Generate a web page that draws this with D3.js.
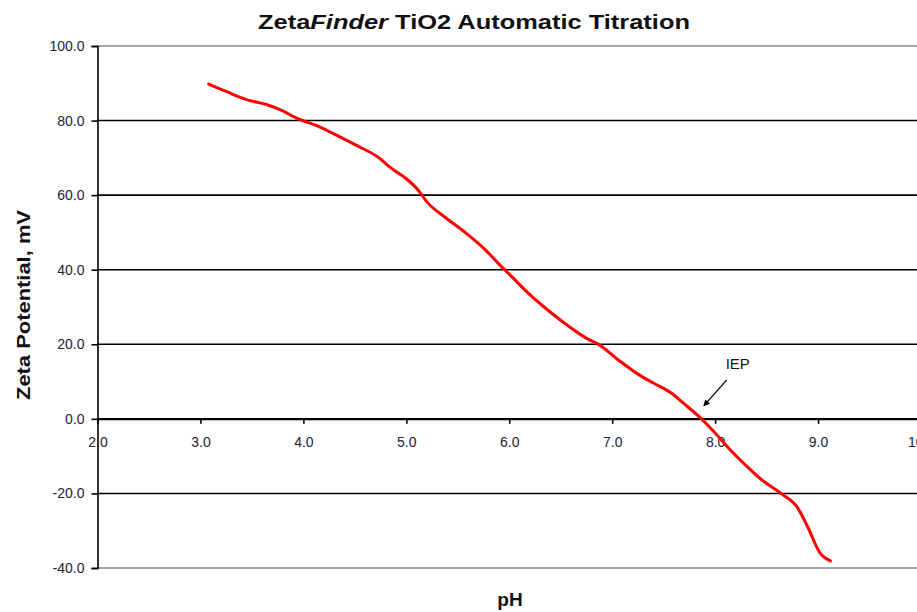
<!DOCTYPE html>
<html><head><meta charset="utf-8">
<script src="https://cdn.jsdelivr.net/npm/d3@7"></script>
<style>body{margin:0;background:#fff;}svg{display:block;font-family:"Liberation Sans",Arial,sans-serif;}</style>
</head><body><svg id="c" width="917" height="612"></svg>
<script>
const pH   = [3.08, 3.25, 3.44, 3.64, 3.80, 3.93, 4.15, 4.35, 4.54, 4.72, 4.86, 5.00, 5.12, 5.20, 5.38, 5.58, 5.78, 5.90, 6.00, 6.20, 6.40, 6.57, 6.77, 6.86, 7.05, 7.25, 7.40, 7.57, 7.70, 7.86, 8.00, 8.15, 8.30, 8.45, 8.65, 8.80, 8.90, 9.02, 9.05, 9.12];
const zeta = [89.8, 87.8, 85.7, 84.3, 82.6, 80.7, 78.4, 75.7, 73.0, 70.3, 67.1, 64.4, 61.2, 58.2, 54.0, 49.8, 45.0, 41.5, 38.8, 33.3, 28.6, 25.0, 21.3, 20.1, 16.0, 12.0, 9.6, 7.0, 4.0, 0.2, -3.8, -8.4, -12.5, -16.3, -20.2, -23.8, -29.0, -36.0, -36.9, -38.1];
const xTicks = [2, 3, 4, 5, 6, 7, 8, 9, 10];
const yTicks = [-40, -20, 0, 20, 40, 60, 80, 100];
const titleParts = [["Zeta", "normal"], ["Finder", "italic"], [" TiO2 Automatic Titration", "normal"]];
const yTitle = "Zeta Potential, mV";
const xTitle = "pH";
const annotation = {text: "IEP", x: 7.88, y: 0};

const svg = d3.select("#c");
const x = d3.scaleLinear().domain([2, 10]).range([97.5, 921]);
const y = d3.scaleLinear().domain([-40, 100]).range([568, 46]);
const fmt = d => d.toFixed(1);

// gridlines
svg.append("g").selectAll("line").data(yTicks).join("line")
  .attr("x1", x(2)).attr("x2", 917)
  .attr("y1", d => y(d)).attr("y2", d => y(d))
  .attr("stroke", d => (d === 100 || d === -40) ? "#8a8a8a" : "#000")
  .attr("stroke-width", 1.6);

// y axis
const ya = svg.append("g").attr("transform", `translate(${x(2)},0)`)
  .call(d3.axisLeft(y).tickValues(yTicks).tickFormat(fmt).tickSize(6).tickPadding(7));
ya.select(".domain").attr("stroke", "#000").attr("stroke-width", 1.6);
ya.selectAll(".tick line").attr("stroke", "#000").attr("stroke-width", 1.6);
ya.selectAll("text").attr("font-size", 14).attr("fill", "#223").attr("font-family", "Liberation Sans, Arial, sans-serif");

// x axis at y=0
const xa = svg.append("g").attr("transform", `translate(0,${y(0)})`)
  .call(d3.axisBottom(x).tickValues(xTicks).tickFormat(fmt).tickSize(5).tickPadding(13));
xa.select(".domain").attr("stroke", "#000").attr("stroke-width", 1.6);
xa.selectAll(".tick line").attr("stroke", "#000").attr("stroke-width", 1.6);
xa.selectAll("text").attr("font-size", 14).attr("fill", "#223").attr("font-family", "Liberation Sans, Arial, sans-serif");

// data line
const data = pH.map((v, i) => [v, zeta[i]]);
svg.append("path").datum(data)
  .attr("fill", "none").attr("stroke", "#ff0000").attr("stroke-width", 3)
  .attr("stroke-linejoin", "round").attr("stroke-linecap", "round")
  .attr("d", d3.line().x(d => x(d[0])).y(d => y(d[1])).curve(d3.curveMonotoneX));

// annotation
svg.append("defs").append("marker").attr("id", "ah").attr("viewBox", "0 0 10 10")
  .attr("refX", 9).attr("refY", 5).attr("markerWidth", 5).attr("markerHeight", 5).attr("orient", "auto")
  .append("path").attr("d", "M0,0L10,5L0,10z").attr("fill", "#000");
svg.append("line")
  .attr("x1", x(annotation.x) + 24).attr("y1", y(annotation.y) - 39)
  .attr("x2", x(annotation.x) + 1).attr("y2", y(annotation.y) - 13)
  .attr("stroke", "#000").attr("stroke-width", 1.3).attr("marker-end", "url(#ah)");
svg.append("text").attr("x", x(annotation.x) + 35).attr("y", y(annotation.y) - 50)
  .attr("text-anchor", "middle").attr("font-size", 15).attr("fill", "#111").text(annotation.text);

// title
const t = svg.append("text").attr("x", 474).attr("y", 29).attr("text-anchor", "middle")
  .attr("font-size", 20).attr("font-weight", "bold").attr("fill", "#111")
  .attr("textLength", 432).attr("lengthAdjust", "spacingAndGlyphs");
titleParts.forEach(p => t.append("tspan").attr("font-style", p[1]).text(p[0]));

// axis titles
svg.append("text").attr("transform", `translate(30,305) rotate(-90)`).attr("text-anchor", "middle")
  .attr("font-size", 18).attr("font-weight", "bold").attr("fill", "#111")
  .attr("textLength", 190).attr("lengthAdjust", "spacingAndGlyphs").text(yTitle);
svg.append("text").attr("x", 510).attr("y", 606).attr("text-anchor", "middle")
  .attr("font-size", 19).attr("font-weight", "bold").attr("fill", "#111").text(xTitle);
</script></body></html>
